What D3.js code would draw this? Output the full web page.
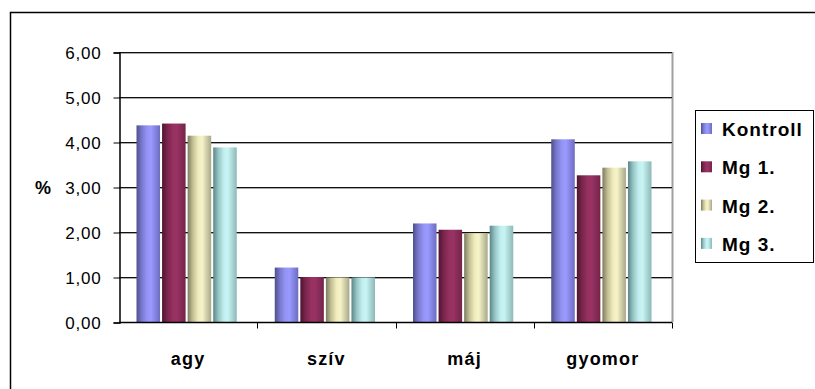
<!DOCTYPE html>
<html>
<head>
<meta charset="utf-8">
<script src="https://cdn.jsdelivr.net/npm/d3@7"></script>
<style>
  html, body { margin: 0; padding: 0; background: #fff; }
  svg { display: block; }
  text { font-family: "Liberation Sans", Arial, sans-serif; fill: #000; }
</style>
</head>
<body>
<svg id="chart" width="815" height="389"></svg>
<script>
// Organ categories and measured percentages per group
const categories = ["agy", "szív", "máj", "gyomor"];
const seriesNames = ["Kontroll", "Mg 1.", "Mg 2.", "Mg 3."];
const kontroll = [4.37, 1.21, 2.19, 4.06];
const mg1 = [4.41, 1.00, 2.05, 3.26];
const mg2 = [4.14, 0.99, 1.97, 3.43];
const mg3 = [3.88, 0.99, 2.14, 3.57];
const yTicks = [0, 1, 2, 3, 4, 5, 6];
const yLabel = "%";

const seriesValues = [kontroll, mg1, mg2, mg3];
// cylinder-like shading stops for each series
const palette = [
  { dark: "#4f4f8c", mid: "#9494f6", light: "#9a9aff", edge: "#6c6cc0" },
  { dark: "#4e1430", mid: "#96305f", light: "#993366", edge: "#742447" },
  { dark: "#7c7c5c", mid: "#f0ecbc", light: "#f6f3c8", edge: "#a8a888" },
  { dark: "#5a8686", mid: "#c0eeee", light: "#c8f4f4", edge: "#8cb8b8" }
];

const svg = d3.select("#chart");
const fmt = v => d3.format(".2f")(v).replace(".", ",");

// gradients
const defs = svg.append("defs");
palette.forEach((p, i) => {
  const g = defs.append("linearGradient").attr("id", "g" + i)
    .attr("x1", "0").attr("x2", "1").attr("y1", "0").attr("y2", "0");
  g.append("stop").attr("offset", "0%").attr("stop-color", p.dark);
  g.append("stop").attr("offset", "22%").attr("stop-color", d3.interpolateRgb(p.dark, p.mid)(0.6));
  g.append("stop").attr("offset", "45%").attr("stop-color", p.mid);
  g.append("stop").attr("offset", "62%").attr("stop-color", p.light);
  g.append("stop").attr("offset", "100%").attr("stop-color", p.edge);
});

// outer chart frame (runs off the right and bottom edges)
svg.append("path")
  .attr("d", "M10.5,400 V12.5 H830")
  .attr("fill", "none").attr("stroke", "#000").attr("stroke-width", 1.5);

const plot = { left: 119, right: 672, top: 52, bottom: 322 };

const y = d3.scaleLinear().domain([0, 6]).range([plot.bottom, plot.top]);
const x0 = d3.scaleBand().domain(categories).range([plot.left, plot.right]);
const groupW = x0.bandwidth() * 0.725;
const x1 = d3.scaleBand().domain(seriesNames).range([0, groupW]).paddingInner(0.08);

// plot area right border
svg.append("line")
  .attr("x1", plot.right + 0.5).attr("x2", plot.right + 0.5)
  .attr("y1", plot.top).attr("y2", plot.bottom)
  .attr("stroke", "#a0a0a0").attr("stroke-width", 2);

// gridlines
const grid = svg.append("g");
yTicks.filter(t => t > 0).forEach(t => {
  const yy = Math.round(y(t)) + 0.5;
  grid.append("line").attr("x1", plot.left).attr("x2", plot.right)
    .attr("y1", yy + 1).attr("y2", yy + 1).attr("stroke", "#a8a8a8");
  grid.append("line").attr("x1", plot.left).attr("x2", plot.right)
    .attr("y1", yy).attr("y2", yy).attr("stroke", "#111");
});

// bars
const bars = svg.append("g");
categories.forEach((c, ci) => {
  const gx = x0(c) + (x0.bandwidth() - groupW) / 2 - 1.5;
  seriesNames.forEach((s, si) => {
    const v = seriesValues[si][ci];
    bars.append("rect")
      .attr("x", gx + x1(s))
      .attr("y", y(v))
      .attr("width", x1.bandwidth())
      .attr("height", y(0) - y(v))
      .attr("fill", `url(#g${si})`);
  });
});

// y axis
const yAxis = d3.axisLeft(y).tickValues(yTicks).tickFormat(fmt).tickSize(6).tickPadding(12);
const ya = svg.append("g").attr("transform", `translate(${plot.left + 0.5},0.5)`).call(yAxis);
ya.select(".domain").attr("stroke", "#000").attr("stroke-width", 1.5);
ya.selectAll(".tick line").attr("stroke", "#000");
ya.selectAll(".tick text")
  .attr("font-family", "Liberation Sans, Arial, sans-serif")
  .attr("font-size", 17).attr("letter-spacing", "0.8px").attr("fill", "#000")
  .attr("dy", "0.36em");

// x axis (ticks on category boundaries)
const xa = svg.append("g").attr("transform", `translate(0,${plot.bottom + 0.5})`);
xa.append("line").attr("x1", plot.left).attr("x2", plot.right)
  .attr("stroke", "#000").attr("stroke-width", 1.5);
categories.forEach(c => {
  const bx = Math.round(x0(c) + x0.bandwidth()) + 0.5;
  xa.append("line").attr("x1", bx).attr("x2", bx).attr("y1", 0).attr("y2", 6).attr("stroke", "#000");
  xa.append("text")
    .attr("x", x0(c) + x0.bandwidth() / 2)
    .attr("y", 42)
    .attr("text-anchor", "middle")
    .attr("font-size", 18).attr("font-weight", "bold").attr("letter-spacing", "1.2px")
    .text(c);
});

// axis title
svg.append("text")
  .attr("x", 35).attr("y", 194)
  .attr("font-size", 18).attr("font-weight", "bold")
  .text(yLabel);

// legend
const lg = svg.append("g");
lg.append("rect").attr("x", 695.5).attr("y", 110.5).attr("width", 118).attr("height", 152)
  .attr("fill", "#fff").attr("stroke", "#000").attr("stroke-width", 1);
seriesNames.forEach((s, i) => {
  const by = 136 + i * 38.3;
  lg.append("rect").attr("x", 701).attr("y", by - 13).attr("width", 11).attr("height", 11)
    .attr("fill", `url(#g${i})`);
  lg.append("text").attr("x", 722).attr("y", by)
    .attr("font-size", 19).attr("font-weight", "bold").attr("letter-spacing", "1px")
    .text(s);
});
</script>
</body>
</html>
